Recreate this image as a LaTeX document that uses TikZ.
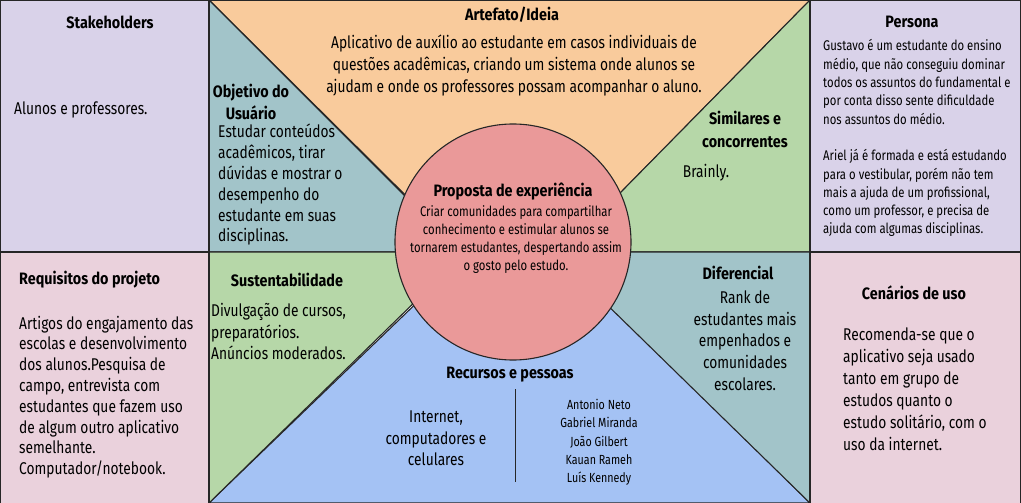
\documentclass[tikz,border=0pt]{standalone}
\usepackage{fontspec}
\setmainfont{Fira Sans}[FakeStretch=0.81]
\newfontfamily\tfont{Fira Sans}[FakeStretch=0.87]
\definecolor{lav}{HTML}{D9D2E9}
\definecolor{pinkc}{HTML}{EAD1DC}
\definecolor{orangec}{HTML}{F9CB9C}
\definecolor{tealc}{HTML}{A2C4C9}
\definecolor{greenc}{HTML}{B6D7A8}
\definecolor{bluec}{HTML}{A4C2F4}
\definecolor{redc}{HTML}{EA9999}
\begin{document}
\begin{tikzpicture}[x=1pt,y=-1pt,
  edge/.style={draw=black!85, line width=1.1pt, line join=miter},
  ttl/.style={font=\tfont\bfseries\fontsize{16.5}{22.5}\selectfont, inner sep=0, align=center},
  body/.style={font=\fontsize{17}{#1}\selectfont, inner sep=0},
  body/.default=21.5,
  small/.style={font=\fontsize{14}{18.3}\selectfont, inner sep=0}]
\useasboundingbox (0,0) rectangle (1021,503);
% side boxes
\fill[lav] (0,0) rectangle (209,252);
\fill[pinkc] (0,252) rectangle (209,503);
\fill[lav] (810,0) rectangle (1021,252);
\fill[pinkc] (810,252) rectangle (1021,503);
% central regions
\filldraw[edge, fill=orangec] (209,0) -- (810,0) -- (513,302) -- cycle;
\filldraw[edge, fill=tealc] (209,0) -- (461,252) -- (209,252) -- cycle;
\filldraw[edge, fill=greenc] (810,0) -- (810,252) -- (562,252) -- cycle;
\filldraw[edge, fill=bluec] (209,503) -- (513,210) -- (810,503) -- cycle;
\filldraw[edge, fill=greenc] (209,252) -- (466,252) -- (209,503) -- cycle;
\filldraw[edge, fill=tealc] (810,252) -- (810,503) -- (553,252) -- cycle;
\draw[edge] (0,252) -- (209,252);
\draw[edge] (810,252) -- (1021,252);
\draw[edge] (0.5,503) -- (0.5,0.5) -- (1020.5,0.5) -- (1020.5,503);
\draw[edge] (209,0) -- (209,503);
\draw[edge] (810,0) -- (810,503);
% circle
\node[circle, draw=black!85, line width=1.1pt, fill=redc, minimum size=236pt, inner sep=0] (circ) at (513,242) {};
% texts
\node[ttl] (stk) at (110,22) {Stakeholders};
\node[body, anchor=west] (stkb) at (14,110) {Alunos e professores.};
\node[ttl] (obj) at (251,102) {Objetivo do\\Usuário};
\node[body=20.8, align=left, anchor=west] (objb) at (218,185) {Estudar conteúdos\\acadêmicos, tirar\\dúvidas e mostrar o\\desempenho do\\estudante em suas\\disciplinas.};
\node[ttl] (art) at (512,15) {Artefato/Ideia};
\node[body=22, align=center] (artb) at (514,66) {Aplicativo de auxílio ao estudante em casos individuais de\\questões acadêmicas, criando um sistema onde alunos se\\ajudam e onde os professores possam acompanhar o aluno.};
\node[ttl] (sim) at (745,129.5) {Similares e\\concorrentes};
\node[body] (simb) at (706,173) {Brainly.};
\node[ttl] (per) at (912,22) {Persona};
\node[small, align=left, anchor=west] (perb) at (823,138.3) {Gustavo é um estudante do ensino\\médio, que não conseguiu dominar\\todos os assuntos do fundamental e\\por conta disso sente dificuldade\\nos assuntos do médio.\\[18.3pt]Ariel já é formada e está estudando\\para o vestibular, porém não tem\\mais a ajuda de um profissional,\\como um professor, e precisa de\\ajuda com algumas disciplinas.};
\node[ttl] (prop) at (513,192) {Proposta de experiência};
\node[small, align=center] (propb) at (516,239.5) {Criar comunidades para compartilhar\\conhecimento e estimular alunos se\\tornarem estudantes, despertando assim\\o gosto pelo estudo.};
\node[ttl, anchor=west] (req) at (19,280) {Requisitos do projeto};
\node[body=20.8, align=left, anchor=west] (reqb) at (19,397) {Artigos do engajamento das\\escolas e desenvolvimento\\dos alunos.Pesquisa de\\campo, entrevista com\\estudantes que fazem uso\\de algum outro aplicativo\\semelhante.\\Computador/notebook.};
\node[ttl] (sus) at (287,280) {Sustentabilidade};
\node[body=21.7, align=left, anchor=west] (susb) at (211,331.7) {Divulgação de cursos,\\preparatórios.\\Anúncios moderados.};
\node[ttl] (dif) at (738,272.7) {Diferencial};
\node[body=21.7, align=center] (difb) at (745,340.7) {Rank de\\estudantes mais\\empenhados e\\comunidades\\escolares.};
\node[ttl] (cen) at (914,292.3) {Cenários de uso};
\node[body=22, align=left, anchor=west] (cenb) at (843,389) {Recomenda-se que o\\aplicativo seja usado\\tanto em grupo de\\estudos quanto o\\estudo solitário, com o\\uso da internet.};
\node[ttl] (rec) at (510,375) {Recursos e pessoas};
\coordinate (sepT) at (515,389);
\coordinate (sepB) at (515,482);
\draw[line width=1pt, black!85] (sepT) -- (sepB);
\node[body=21.7, align=center] (recb) at (436,438.3) {Internet,\\computadores e\\celulares};
\node[font=\fontsize{13.2}{18.1}\selectfont, inner sep=0, align=center] (names) at (599,442.3) {Antonio Neto\\Gabriel Miranda\\João Gilbert\\Kauan Rameh\\Luís Kennedy};
\end{tikzpicture}
\end{document}
